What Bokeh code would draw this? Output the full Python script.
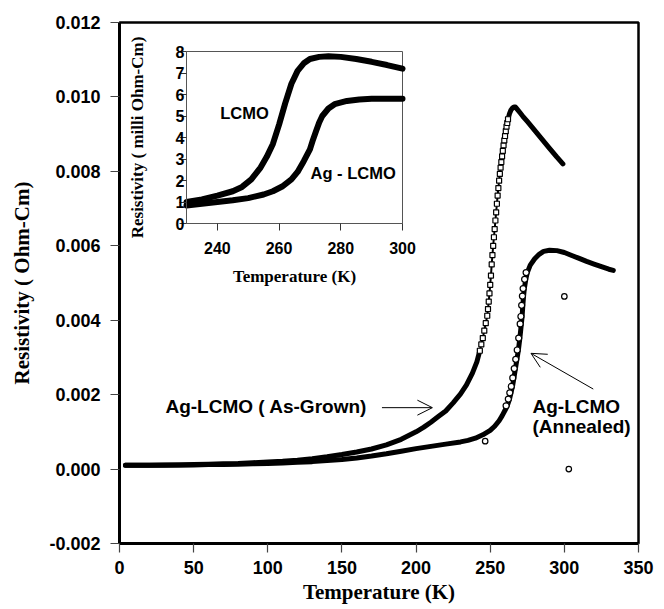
from bokeh.plotting import figure
from bokeh.models import Range1d, LinearAxis, FixedTicker, PrintfTickFormatter, Label, Arrow, OpenHead
from bokeh.embed import file_html
from bokeh.resources import INLINE

# ---------------- data ----------------
asgrown_T = [4, 10, 20, 30, 40, 50, 60, 70, 80, 90, 100, 110, 120, 130, 140, 150, 160, 170, 180, 190,
             200, 205, 210, 215, 220, 225, 230, 234, 238, 241, 243, 244, 245, 246, 247, 248, 248.5, 249,
             249.5, 250, 250.5, 251, 251.5, 252, 252.5, 253, 253.5, 254, 254.5, 255, 255.5, 256, 256.5,
             257, 257.5, 258, 258.5, 259, 259.5, 260, 260.5, 261, 261.5, 262, 263, 264, 265, 266, 267,
             268, 270, 272, 275, 280, 285, 290, 295, 299]
asgrown_rho = [0.00010, 0.00010, 0.00010, 0.00011, 0.00011, 0.00012, 0.00013, 0.00014, 0.00015, 0.00017,
               0.00019, 0.00021, 0.00024, 0.00028, 0.00033, 0.00039, 0.00046, 0.00054, 0.00065, 0.00080,
               0.00100, 0.00112, 0.00126, 0.00141, 0.00156, 0.00178, 0.00202, 0.00226, 0.00258, 0.00288,
               0.00318, 0.00335, 0.00352, 0.00372, 0.00392, 0.00412, 0.00430, 0.00450, 0.00472, 0.00495,
               0.00520, 0.00550, 0.00575, 0.00600, 0.00623, 0.00645, 0.00668, 0.00690, 0.00713, 0.00735,
               0.00755, 0.00775, 0.00793, 0.00810, 0.00825, 0.00840, 0.00855, 0.00870, 0.00883, 0.00895,
               0.00908, 0.00920, 0.00930, 0.00940, 0.00955, 0.00965, 0.00970, 0.00973, 0.00973, 0.00968,
               0.00958, 0.00948, 0.00934, 0.00910, 0.00886, 0.00862, 0.00838, 0.00820]

annealed_T = [4, 10, 20, 30, 40, 50, 60, 70, 80, 90, 100, 110, 120, 130, 140, 150, 160, 170, 180, 190,
              200, 210, 220, 230, 235, 240, 245, 250, 253, 256, 258, 260, 261.5, 263, 264, 265, 266, 267,
              268, 269, 270, 271, 271.5, 272, 272.5, 273, 274, 275, 277, 280, 283, 286, 290, 295, 300,
              305, 310, 315, 320, 325, 330, 333]
annealed_rho = [0.00010, 0.00010, 0.00010, 0.00010, 0.00011, 0.00011, 0.00012, 0.00012, 0.00013, 0.00014,
                0.00015, 0.00016, 0.00018, 0.00020, 0.00023, 0.00026, 0.00030, 0.00035, 0.00041, 0.00048,
                0.00055, 0.00061, 0.00067, 0.00073, 0.00077, 0.00083, 0.00092, 0.00104, 0.00115, 0.00130,
                0.00143, 0.00158, 0.00170, 0.00188, 0.00205, 0.00222, 0.00245, 0.00270, 0.00295, 0.00320,
                0.00352, 0.00390, 0.00410, 0.00440, 0.00465, 0.00485, 0.00510, 0.00528, 0.00548, 0.00565,
                0.00577, 0.00585, 0.00588, 0.00587, 0.00582, 0.00574, 0.00566, 0.00558, 0.00551, 0.00544,
                0.00537, 0.00534]

stray_T = [246.6, 300, 303]
stray_rho = [0.00075, 0.00464, 0.0]

inset_T_lcmo = [230, 235, 240, 245, 248, 251, 254, 256, 258, 260, 262, 264, 266, 268, 270, 273, 276,
                280, 285, 290, 295, 300]
inset_rho_lcmo = [1.0, 1.12, 1.3, 1.5, 1.7, 2.05, 2.6, 3.1, 3.7, 4.6, 5.6, 6.5, 7.1, 7.45, 7.65, 7.75,
                  7.78, 7.75, 7.65, 7.52, 7.37, 7.2]
inset_T_ag = [230, 235, 240, 245, 250, 255, 258, 261, 264, 266, 268, 270, 271, 272, 273, 274, 276, 278,
              282, 286, 290, 295, 300]
inset_rho_ag = [0.84, 0.92, 1.0, 1.08, 1.18, 1.35, 1.5, 1.72, 2.05, 2.4, 2.9, 3.45, 3.9, 4.3, 4.7, 5.0,
                5.35, 5.55, 5.7, 5.77, 5.8, 5.8, 5.8]

main_xticks = [0, 50, 100, 150, 200, 250, 300, 350]
main_yticks = [-0.002, 0.0, 0.002, 0.004, 0.006, 0.008, 0.010, 0.012]
inset_xticks = [240, 260, 280, 300]
inset_yticks = [0, 1, 2, 3, 4, 5, 6, 7, 8]

# ---------------- layout geometry (pixels) ----------------
W, H = 664, 609
FL, FR, FT, FB = 119, 638, 22, 543          # main frame
IL, IR, IT, IB = 186, 402, 51, 223          # inset frame
IX0, IX1, IY0, IY1 = 230, 300, 0, 8         # inset data extent
XMIN, XMAX, YMIN, YMAX = 0, 350, -0.002, 0.012

SANS = "Liberation Sans"
SERIF = "Liberation Serif"

kx = (FR - FL) / (XMAX - XMIN)
ky = (FB - FT) / (YMAX - YMIN)


def split_by_steepness(T, R, thr):
    """Split a series into gently-sloped runs (drawn as a band) and steep points (drawn as markers)."""
    runs, cur, steep = [], [0], set()
    for i in range(1, len(T)):
        s = abs((R[i] - R[i - 1]) * ky / ((T[i] - T[i - 1]) * kx))
        if s > thr:
            steep.update([i - 1, i])
            if len(cur) > 1:
                runs.append(cur)
            cur = [i]
        else:
            cur.append(i)
    if len(cur) > 1:
        runs.append(cur)
    xs = [[T[j] for j in r] for r in runs]
    ys = [[R[j] for j in r] for r in runs]
    st = sorted(steep)
    return xs, ys, [T[j] for j in st], [R[j] for j in st]


p = figure(width=W, height=H, x_range=Range1d(XMIN, XMAX), y_range=Range1d(YMIN, YMAX),
           output_backend="svg", toolbar_location=None,
           min_border_left=FL, min_border_right=W - FR, min_border_top=FT, min_border_bottom=H - FB)
p.grid.visible = False
p.outline_line_color = "black"
p.outline_line_width = 2.5
p.background_fill_color = "white"
p.border_fill_color = "white"

xa = p.below[0]
ya = p.left[0]
xa.ticker = FixedTicker(ticks=main_xticks, minor_ticks=[])
ya.ticker = FixedTicker(ticks=main_yticks, minor_ticks=[])
ya.formatter = PrintfTickFormatter(format="%.3f")
for ax in (xa, ya):
    ax.axis_line_width = 3
    ax.axis_line_color = "black"
    ax.major_tick_line_color = "#444444"
    ax.major_tick_line_width = 1.2
    ax.major_tick_in = 0
    ax.major_tick_out = 9
    ax.minor_tick_line_color = None
    ax.major_label_text_font = SANS
    ax.major_label_text_font_style = "bold"
    ax.major_label_text_font_size = "18px"
    ax.major_label_text_color = "black"
    ax.axis_label_text_font = SERIF
    ax.axis_label_text_font_style = "bold"
    ax.axis_label_text_font_size = "21px"
    ax.axis_label_text_color = "black"
xa.axis_label = "Temperature (K)"
ya.axis_label = "Resistivity ( Ohm-Cm)"
xa.major_label_standoff = 8
ya.major_label_standoff = 10
xa.axis_label_standoff = 3
ya.axis_label_standoff = 12

# ---------------- main series ----------------
ag_xs, ag_ys, ag_sx, ag_sy = split_by_steepness(asgrown_T, asgrown_rho, 4.0)
p.line(asgrown_T, asgrown_rho, line_color="black", line_width=2, line_join="round")
p.multi_line(ag_xs, ag_ys, line_color="black", line_width=5, line_cap="round", line_join="round")
p.scatter(ag_sx, ag_sy, marker="square", size=5, fill_color="white",
          line_color="black", line_width=1.2)

an_xs, an_ys, an_sx, an_sy = split_by_steepness(annealed_T, annealed_rho, 3.0)
p.line(annealed_T, annealed_rho, line_color="black", line_width=5, line_cap="round", line_join="round")
p.scatter([t - 0.8 for t in an_sx], an_sy, marker="circle", size=6, fill_color="white",
          line_color="black", line_width=1.2)
p.scatter(stray_T, stray_rho, marker="circle", size=5.5, fill_color="white",
          line_color="black", line_width=1.2)

LBL = dict(text_font=SANS, text_font_style="bold", text_font_size="19px", text_color="black",
           text_baseline="middle")
p.add_layout(Label(x=31, y=0.00169, text="Ag-LCMO ( As-Grown)", **LBL))
p.add_layout(Arrow(end=OpenHead(size=15, line_width=1, line_color="black"), x_start=177, y_start=0.00165,
                   x_end=211, y_end=0.00165, line_width=1, line_color="black"))
p.add_layout(Label(x=278.5, y=0.00169, text="Ag-LCMO", **LBL))
p.add_layout(Label(x=278.5, y=0.00115, text="(Annealed)", **LBL))
p.add_layout(Arrow(end=OpenHead(size=15, line_width=1, line_color="black"), x_start=319.5, y_start=0.00215,
                   x_end=277.5, y_end=0.00311, line_width=1, line_color="black"))

# ---------------- inset (extra ranges mapped onto a sub-rectangle) ----------------
sx = (IR - IL) / (IX1 - IX0)
sy = (IB - IT) / (IY1 - IY0)
p.extra_x_ranges = {"ix": Range1d(IX0 - (IL - FL) / sx, IX1 + (FR - IR) / sx)}
p.extra_y_ranges = {"iy": Range1d(IY0 - (FB - IB) / sy, IY1 + (IT - FT) / sy)}

ixa = LinearAxis(x_range_name="ix", y_range_name="iy", fixed_location=IY0, bounds=(IX0, IX1),
                 ticker=FixedTicker(ticks=inset_xticks, minor_ticks=[]), axis_label="Temperature (K)")
iya = LinearAxis(x_range_name="ix", y_range_name="iy", fixed_location=IX0, bounds=(IY0, IY1),
                 ticker=FixedTicker(ticks=inset_yticks, minor_ticks=[]),
                 axis_label="Resistivity ( milli Ohm-Cm)")
for ax in (ixa, iya):
    ax.axis_line_width = 1
    ax.axis_line_color = "#555555"
    ax.major_tick_line_color = "#333333"
    ax.major_tick_line_width = 1
    ax.major_tick_in = 0
    ax.major_tick_out = 7
    ax.minor_tick_line_color = None
    ax.major_label_text_font = SANS
    ax.major_label_text_font_style = "bold"
    ax.major_label_text_font_size = "16px"
    ax.major_label_text_color = "black"
    ax.axis_label_text_font = SERIF
    ax.axis_label_text_font_style = "bold"
    ax.axis_label_text_font_size = "17px"
    ax.axis_label_text_color = "black"
ixa.major_label_standoff = 11
ixa.axis_label_standoff = 10
iya.major_label_standoff = -5
iya.axis_label_standoff = 26
p.add_layout(ixa, "below")
p.add_layout(iya, "left")

p.line([IX0, IX1, IX1], [IY1, IY1, IY0], x_range_name="ix", y_range_name="iy",
       line_color="#555555", line_width=1)

p.line(inset_T_lcmo, inset_rho_lcmo, x_range_name="ix", y_range_name="iy",
       line_color="black", line_width=6, line_cap="round", line_join="round")
p.line(inset_T_ag, inset_rho_ag, x_range_name="ix", y_range_name="iy",
       line_color="black", line_width=6, line_cap="round", line_join="round")

ILBL = dict(x_range_name="ix", y_range_name="iy", text_baseline="middle", text_color="black",
            text_font=SANS, text_font_style="bold", text_font_size="16.5px")
p.add_layout(Label(x=248.8, y=5.12, text="LCMO", text_align="center", **ILBL))
p.add_layout(Label(x=270.2, y=2.33, text="Ag - LCMO", **ILBL))

open("out.html", "w").write(file_html(p, INLINE))
